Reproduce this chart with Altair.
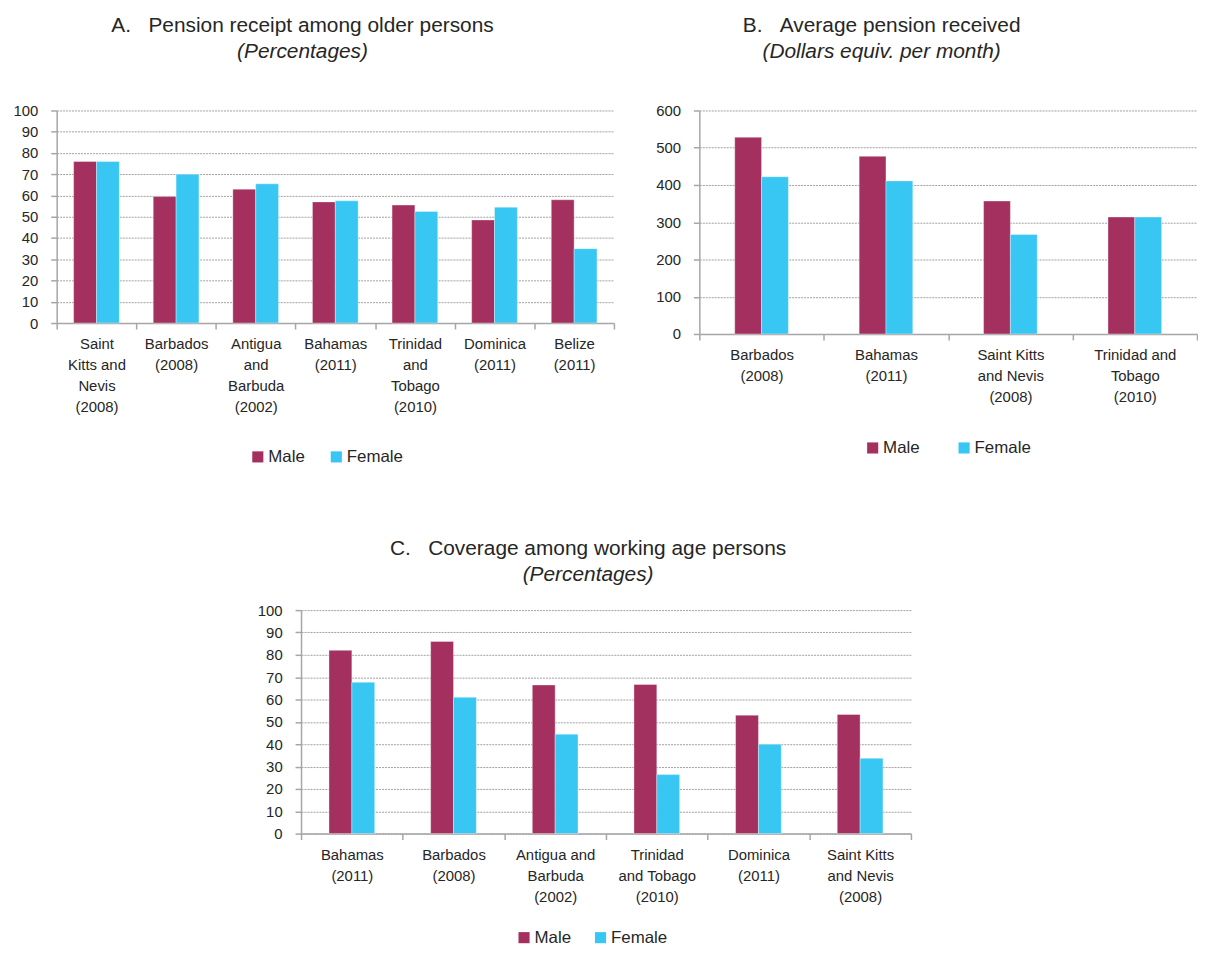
import altair as alt
import pandas as pd

# ---------------- data ----------------
sexes = ["Male", "Female"]
colors = ["#A3305E", "#38C6F3"]

catA = ["Saint|Kitts and|Nevis|(2008)", "Barbados|(2008)", "Antigua|and|Barbuda|(2002)",
        "Bahamas|(2011)", "Trinidad|and|Tobago|(2010)", "Dominica|(2011)", "Belize|(2011)"]
maleA = [76, 59.5, 63, 57, 55.5, 48.5, 58]
femaleA = [76, 70, 65.5, 57.5, 52.5, 54.5, 35]

catB = ["Barbados|(2008)", "Bahamas|(2011)", "Saint Kitts|and Nevis|(2008)", "Trinidad and|Tobago|(2010)"]
maleB = [528, 477, 357, 314]
femaleB = [422, 411, 267, 314]

catC = ["Bahamas|(2011)", "Barbados|(2008)", "Antigua and|Barbuda|(2002)",
        "Trinidad|and Tobago|(2010)", "Dominica|(2011)", "Saint Kitts|and Nevis|(2008)"]
maleC = [82, 86, 66.5, 66.7, 53, 53.3]
femaleC = [67.7, 61, 44.5, 26.4, 40, 33.7]

FONT = "Liberation Sans"
TXT = "#262626"
AX = "#a6a6a6"


def long_df(cats, male, female):
    rows = []
    for c, m, f in zip(cats, male, female):
        rows.append({"country": c, "sex": "Male", "value": m})
        rows.append({"country": c, "sex": "Female", "value": f})
    return pd.DataFrame(rows)


def panel(cats, male, female, width, height, ymax, ystep, title, subtitle, dx, toff,
          legx, legy, colpad, barw):
    df = long_df(cats, male, female)
    base = alt.Chart(df).encode(
        x=alt.X("country:N", sort=cats, title=None,
                scale=alt.Scale(paddingInner=0, paddingOuter=0),
                axis=alt.Axis(labelAngle=0, labelExpr="split(datum.label, '|')",
                              tickBand="extent", labelFontSize=15, labelLineHeight=21,
                              labelPadding=8, tickSize=6, tickColor=AX, domainColor=AX,
                              domainWidth=1.5, tickWidth=1.5, labelColor=TXT, labelFont=FONT,
                              labelOverlap=False, labelBound=False, labelBaseline="top")),
        y=alt.Y("value:Q", title=None,
                scale=alt.Scale(domain=[0, ymax], nice=False),
                axis=alt.Axis(values=list(range(0, ymax + 1, ystep)), grid=True,
                              gridDash=[2, 1], gridColor="#a0a0a0", gridWidth=1,
                              tickSize=6, tickColor=AX, domainColor=AX, domainWidth=1.5,
                              tickWidth=1.5, labelFontSize=15, labelColor=TXT, labelFont=FONT,
                              labelPadding=13)),
        color=alt.Color("sex:N", sort=sexes,
                        scale=alt.Scale(domain=sexes, range=colors),
                        legend=alt.Legend(orient="none", legendX=legx, legendY=legy,
                                          direction="horizontal", title=None,
                                          symbolType="square", symbolSize=125,
                                          symbolStrokeWidth=0, labelFontSize=17,
                                          labelFont=FONT, labelColor=TXT, labelOffset=2,
                                          columnPadding=colpad)),
    )
    male_bars = base.transform_filter(alt.datum.sex == "Male").mark_bar(
        width=barw, xOffset=-barw / 2, stroke="white", strokeWidth=0.6, strokeOpacity=0.6)
    female_bars = base.transform_filter(alt.datum.sex == "Female").mark_bar(
        width=barw, xOffset=barw / 2, stroke="white", strokeWidth=0.6, strokeOpacity=0.6)
    return alt.layer(male_bars, female_bars).properties(
        width=width, height=height,
        title=alt.Title(text=title, subtitle=subtitle, fontSize=21, subtitleFontSize=21,
                        font=FONT, subtitleFont=FONT, fontWeight="normal",
                        subtitleFontStyle="italic", color=TXT, subtitleColor=TXT,
                        anchor="middle", frame="group", dx=dx, offset=toff,
                        subtitlePadding=5),
    )


A = panel(catA, maleA, femaleA, 561, 214, 100, 10,
          "A.\u00a0\u00a0\u00a0Pension receipt among older persons", "(Percentages)",
          -33, 42, 194, 340, 23, 23)
B = panel(catB, maleB, femaleB, 501, 225, 600, 100,
          "B.\u00a0\u00a0\u00a0Average pension received", "(Dollars equiv. per month)",
          -67, 42, 166, 331, 36, 27)
C = panel(catC, maleC, femaleC, 614, 225, 100, 10,
          "C.\u00a0\u00a0\u00a0Coverage among working age persons", "(Percentages)",
          -18, 18, 216, 321, 21, 23)

spacer = (
    alt.Chart(pd.DataFrame({"v": [0]}))
    .mark_point(opacity=0)
    .encode(x=alt.value(0), y=alt.value(0))
    .properties(width=201, height=10)
)

top = alt.hconcat(A, B, spacing=40).resolve_legend(color="independent").resolve_scale(color="independent")
bottom = alt.hconcat(spacer, C, spacing=0).resolve_legend(color="independent").resolve_scale(color="independent")

chart = (
    alt.vconcat(top, bottom, spacing=74)
    .resolve_legend(color="independent")
    .resolve_scale(color="independent")
    .properties(padding={"left": 4, "top": 4, "right": 0, "bottom": 0})
    .configure_view(stroke=None)
)

chart.save("out.html", embed_options={"renderer": "svg", "actions": False})
